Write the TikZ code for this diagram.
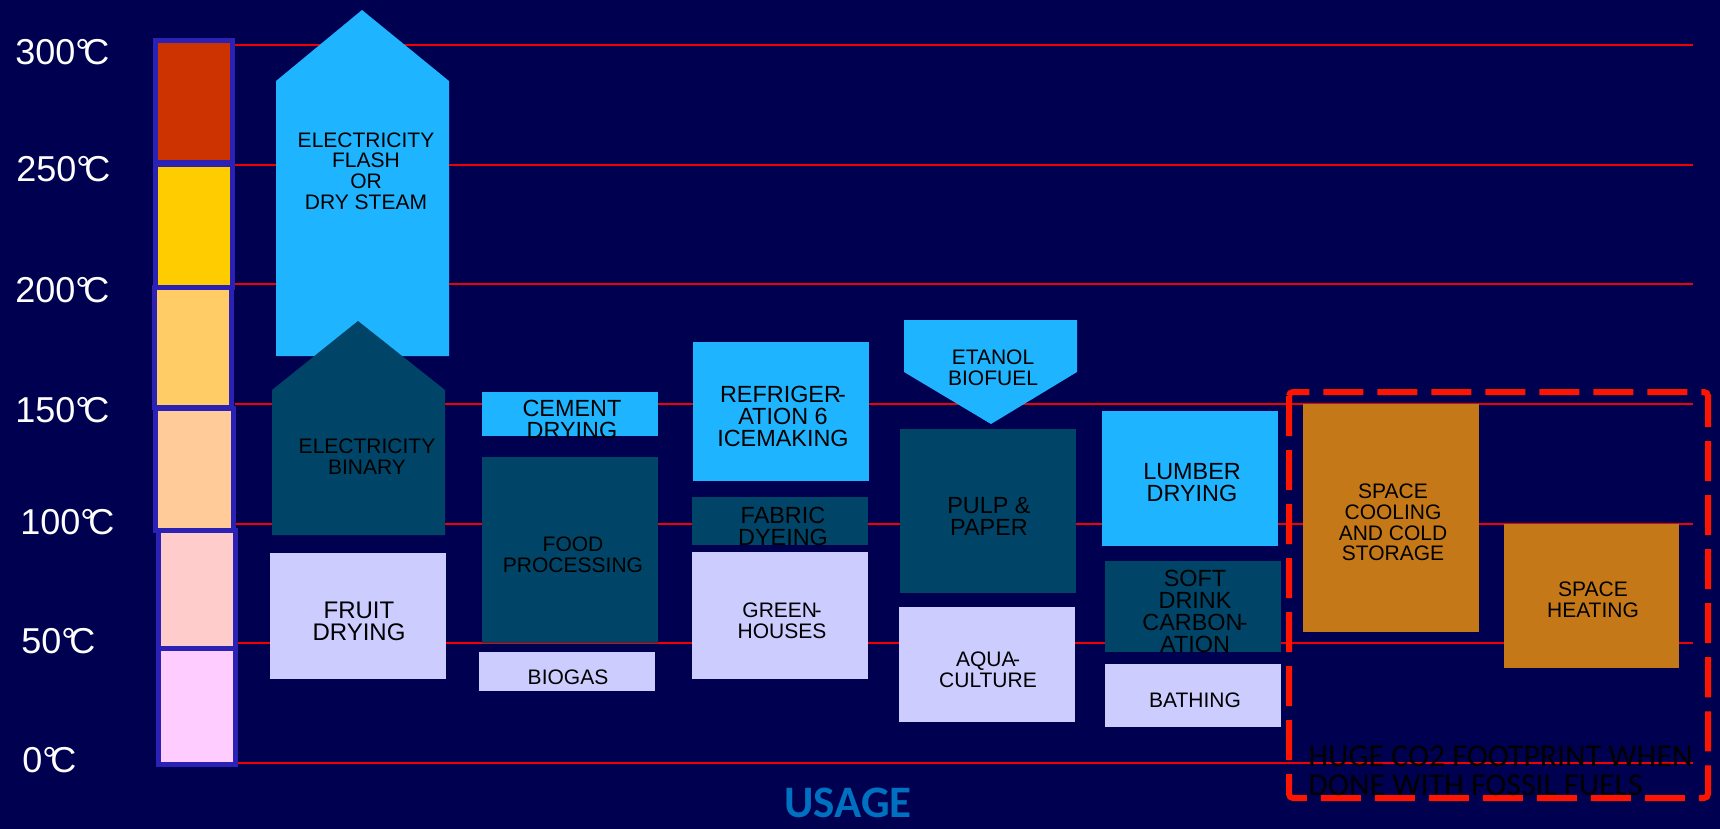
\documentclass[tikz,border=0pt]{standalone}
\usepackage{fontspec}
\setmainfont{Liberation Sans}
\newfontfamily\calfont{Carlito}
\definecolor{bg}{RGB}{0,0,80}
\definecolor{lblue}{RGB}{31,180,255}
\definecolor{teal}{RGB}{0,69,104}
\definecolor{lav}{RGB}{204,204,255}
\definecolor{ochre}{RGB}{196,120,24}
\definecolor{gridred}{RGB}{240,0,0}
\definecolor{dashred}{RGB}{255,20,0}
\definecolor{thermb}{RGB}{43,34,181}
\definecolor{segA}{HTML}{CC3300}
\definecolor{segB}{HTML}{FFCC00}
\definecolor{segC}{HTML}{FFCC66}
\definecolor{segD}{HTML}{FFCC99}
\definecolor{segE}{HTML}{FFCCCC}
\definecolor{segF}{HTML}{FFCCFF}
\definecolor{usage}{HTML}{0070C0}
\begin{document}
\begin{tikzpicture}[x=0.5pt,y=-0.5pt,
  gridline/.style={draw=gridred,line width=1pt},
  thermseg/.style={draw=thermb,line width=2.5pt},
  templbl/.style={text=white,inner sep=0pt,anchor=base west,font=\fontsize{18}{18}\selectfont},
  boxtxt/.style={inner sep=0pt,align=center,text=black},
  tsmall/.style={boxtxt,font=\fontsize{10.5}{10.4}\selectfont},
  tmid/.style={boxtxt,font=\fontsize{11.7}{11}\selectfont},
  co2box/.style={draw=dashred,line width=3pt,dash pattern=on 20pt off 7pt,rounded corners=2pt}
]
\useasboundingbox (0,0) rectangle (1720,829);
\fill[bg] (0,0) rectangle (1720,829);

% grid lines
\foreach \yy in {45,165,284,404,524,643,763}{
  \draw[gridline] (235,\yy) -- (1693,\yy);
}

% thermometer
\draw[thermseg,fill=segA] (155.5,40.5) rectangle (232.5,163);
\draw[thermseg,fill=segB] (155.5,164.5) rectangle (232.5,287.5);
\draw[thermseg,fill=segC] (154.5,287.5) rectangle (231.5,407.5);
\draw[thermseg,fill=segD] (155.5,408.5) rectangle (233.5,530.5);
\draw[thermseg,fill=segE] (158.5,530.5) rectangle (235.5,648.5);
\draw[thermseg,fill=segF] (158.5,648.5) rectangle (235.5,764.5);

% temperature labels
\node[templbl] (t300) at (15,65) {300°\kern-0.18em C};
\node[templbl] (t250) at (16,182) {250°\kern-0.18em C};
\node[templbl] (t200) at (15,302) {200°\kern-0.18em C};
\node[templbl] (t150) at (15,422) {150°\kern-0.18em C};
\node[templbl] (t100) at (20,534) {100°\kern-0.18em C};
\node[templbl] (t50) at (21,653) {50°\kern-0.18em C};
\node[templbl] (t0) at (22,772) {0°\kern-0.18em C};

% column 1
\fill[lblue] (276,356) -- (276,81) -- (362,10) -- (449,81) -- (449,356) -- cycle;
\node[tsmall] (flash) at (366,171) {ELECTRICITY\\FLASH\hspace{0.5em}\\OR\\DRY STEAM};
\fill[teal] (272,535) -- (272,390) -- (358,321) -- (445,390) -- (445,535) -- cycle;
\node[tsmall] (binary) at (367,457) {ELECTRICITY\\BINARY};
\fill[lav] (270,553) rectangle (446,679);
\node[boxtxt,font=\fontsize{12}{11}\selectfont] (fruit) at (359,621) {FRUIT\\DRYING};

% column 2
\fill[lblue] (482,392) rectangle (658,436);
\node[tmid] (cement) at (572,419) {CEMENT\\DRYING};
\fill[teal] (482,457) rectangle (658,643);
\node[tsmall] (food) at (573,555) {FOOD\\PROCESSING};
\fill[lav] (479,652) rectangle (655,691);
\node[tsmall] (biogas) at (568,677) {BIOGAS};

% column 3
\fill[lblue] (693,342) rectangle (869,481);
\node[tmid] (refrig) at (783,416) {REFRIGER\kern-0.12em-\\ATION 6\\ICEMAKING};
\fill[teal] (692,497) rectangle (868,545);
\node[tmid] (fabric) at (783,526) {FABRIC\\DYEING};
\fill[lav] (692,552) rectangle (868,679);
\node[tsmall] (green) at (782,621) {GREEN\kern-0.12em-\\HOUSES};

% column 4
\fill[lblue] (904,320) -- (1077,320) -- (1077,372) -- (991,424) -- (904,372) -- cycle;
\node[tsmall] (etanol) at (993,368) {ETANOL\\BIOFUEL};
\fill[teal] (900,429) rectangle (1076,593);
\node[tmid] (pulp) at (989,516.5) {PULP \&\\PAPER};
\fill[lav] (899,607) rectangle (1075,722);
\node[tsmall] (aqua) at (988,669.5) {AQUA\kern-0.12em-\\CULTURE};

% column 5
\fill[lblue] (1102,411) rectangle (1278,546);
\node[tmid] (lumber) at (1192,483) {LUMBER\\DRYING};
\fill[teal] (1105,561) rectangle (1281,652);
\node[tmid] (soft) at (1195,611.5) {SOFT\\DRINK\\CARBON\kern-0.12em-\\ATION};
\fill[lav] (1105,664) rectangle (1281,727);
\node[tsmall] (bathing) at (1195,700) {BATHING};

% space cooling / heating
\fill[ochre] (1303,404) rectangle (1479,632);
\node[tsmall] (cooling) at (1393,522.5) {SPACE\\COOLING\\AND COLD\\STORAGE};
\fill[ochre] (1504,524) rectangle (1679,668);
\node[tsmall] (heating) at (1593,599.5) {SPACE\\HEATING};

% CO2 dashed box
\draw[co2box] (1289,392) rectangle (1708,798);
\node[inner sep=0pt,anchor=west,align=left,text=black,font=\calfont\fontsize{15.9}{14.3}\selectfont] (huge) at (1308,771) {HUGE CO2 FOOTPRINT WHEN\\DONE WITH FOSSIL FUELS};

% title
\node[inner sep=0pt,text=usage,font=\calfont\bfseries\fontsize{22.5}{22.5}\selectfont] (usagelbl) at (848,803) {USAGE};
\end{tikzpicture}
\end{document}
